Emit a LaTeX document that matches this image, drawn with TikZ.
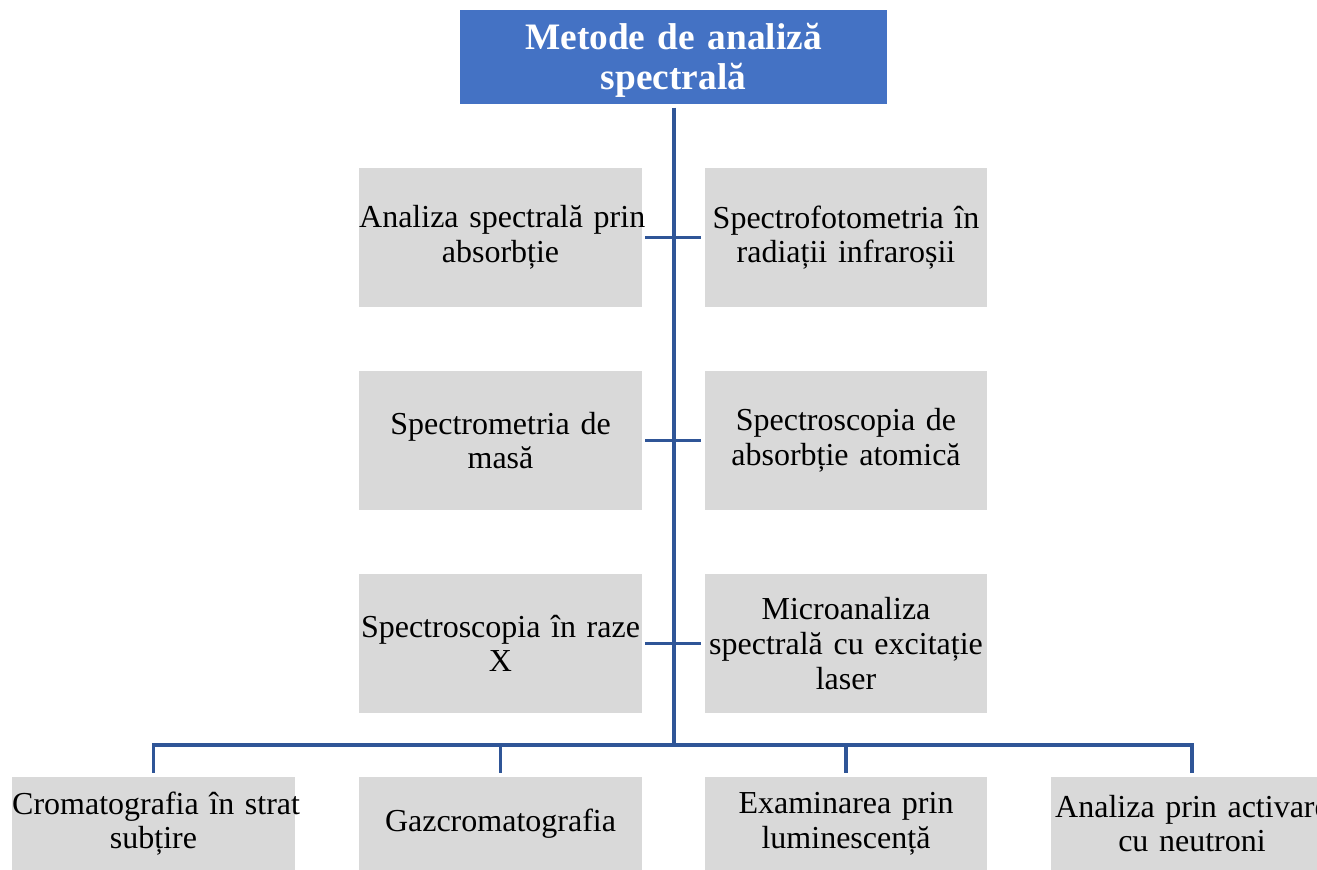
\documentclass[tikz,border=0pt]{standalone}
\usepackage{fontspec}
\setmainfont{Liberation Serif}
\usepackage{tikz}

\definecolor{titlublue}{HTML}{4472C4}
\definecolor{liniablue}{HTML}{2F5597}
\definecolor{cutiegri}{HTML}{D9D9D9}

\tikzset{
    titlu/.style={fill=titlublue,text=white,inner sep=0pt,align=center,
        text width=320pt,minimum width=320pt,minimum height=70.5pt,
        font=\fontsize{28}{30}\selectfont\bfseries},
    cutie/.style={fill=cutiegri,inner sep=0pt,align=center,
        text width=212pt,minimum width=212pt,minimum height=104pt,
        font=\fontsize{24}{26}\selectfont},
    cutiejos/.style={cutie,minimum height=70pt},
    linie/.style={draw=liniablue,line width=2.3pt}
}

\begin{document}
\begin{tikzpicture}[x=0.75pt,y=-0.75pt]
    \useasboundingbox (0,0) rectangle (1317,870);
    \clip (0,0) rectangle (1317,870);

    % Titlul.
    \node[titlu] (titlu) at (673.5,57) {\rule{0pt}{24pt}\mbox{Metode de analiză}\\\mbox{spectrală}};

    % Metode pe doua coloane.
    \node[cutie] (st1) at (500.5,237.5) {\mbox{Analiza spectrală prin}\\\mbox{absorbție}};
    \node[cutie] (dr1) at (846,237.5) {\mbox{Spectrofotometria în}\\\mbox{radiații infraroșii}};
    \node[cutie] (st2) at (500.5,440.5) {\mbox{Spectrometria de}\\\mbox{masă}};
    \node[cutie] (dr2) at (846,440.5) {\mbox{Spectroscopia de}\\\mbox{absorbție atomică}};
    \node[cutie] (st3) at (500.5,643.5) {\mbox{Spectroscopia în raze}\\\mbox{X}};
    \node[cutie] (dr3) at (846,643.5) {\mbox{Microanaliza}\\\mbox{spectrală cu excitație}\\\mbox{laser}};

    % Metode pe ultimul rand.
    \node[cutiejos] (jos1) at (153.5,823.5) {\mbox{Cromatografia în strat}\\\mbox{subțire}};
    \node[cutiejos] (jos2) at (500.5,823.5) {\mbox{Gazcromatografia}};
    \node[cutiejos] (jos3) at (846,823.5) {\mbox{Examinarea prin}\\\mbox{luminescență}};
    \node[cutiejos] (jos4) at (1192,823.5) {\mbox{Analiza prin activare}\\\mbox{cu neutroni}};

    % Linia principala si bara de jos.
    \coordinate (bara) at (674,745);
    \draw[linie,shorten <=2.5pt] (titlu.south -| bara) -- (bara);
    \foreach \i in {1,2,3}{
        \draw[linie,shorten <=2.2pt,shorten >=2.2pt] (st\i.east) -- (dr\i.west);
    }
    \draw[linie,shorten <=3pt,shorten >=3pt] (jos1.north) |- (bara) -| (jos4.north);
    \foreach \i in {2,3}{
        \draw[linie,shorten <=3pt] (jos\i.north) -- (jos\i.north |- bara);
    }
\end{tikzpicture}
\end{document}
